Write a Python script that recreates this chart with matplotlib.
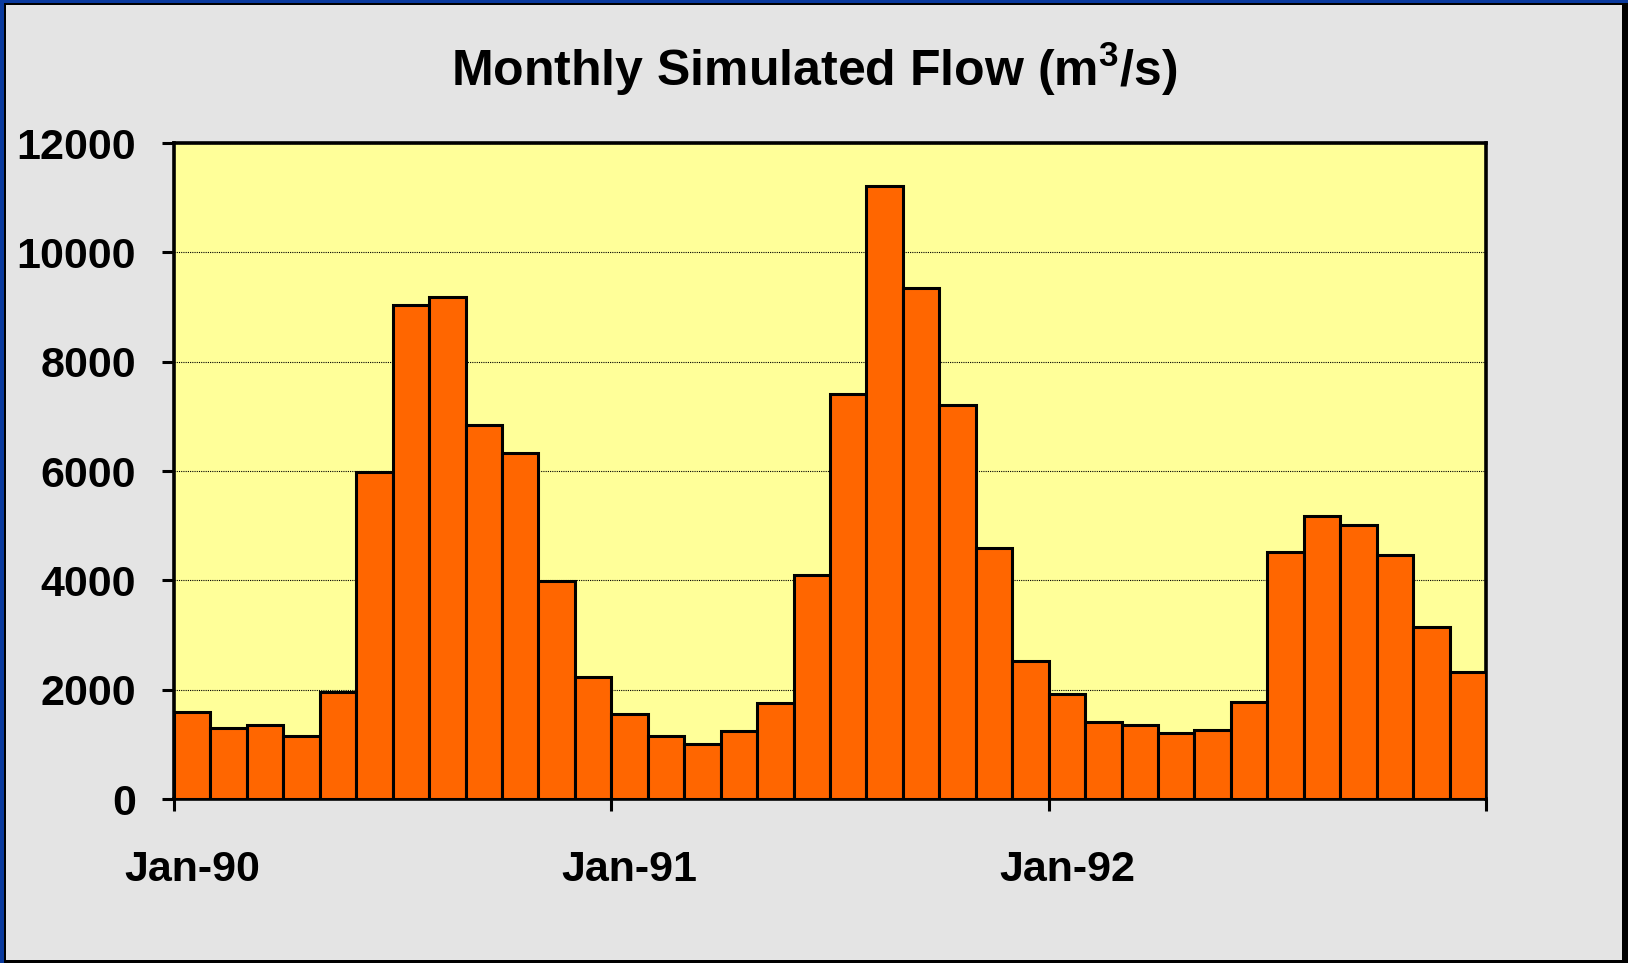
import matplotlib
matplotlib.use("Agg")
import matplotlib.pyplot as plt
from matplotlib.patches import Rectangle
import numpy as np

# monthly simulated flow, Jan-90 .. Dec-92 (m3/s)
flow_1990 = [1600, 1290, 1350, 1150, 1960, 5990, 9040, 9190, 6840, 6330, 3990, 2230]
flow_1991 = [1560, 1150, 1000, 1250, 1760, 4100, 7400, 11210, 9340, 7200, 4600, 2520]
flow_1992 = [1920, 1410, 1350, 1200, 1260, 1770, 4510, 5180, 5020, 4460, 3140, 2320]
year_labels = ["Jan-90", "Jan-91", "Jan-92"]
y_ticks = [0, 2000, 4000, 6000, 8000, 10000, 12000]

flow = flow_1990 + flow_1991 + flow_1992
months = np.arange(len(flow))

plt.rcParams["font.family"] = ["Liberation Sans", "DejaVu Sans"]
plt.rcParams["font.weight"] = "bold"
plt.rcParams["mathtext.fontset"] = "custom"
plt.rcParams["mathtext.rm"] = "Liberation Sans:bold"
plt.rcParams["mathtext.bf"] = "Liberation Sans:bold"

W, H = 1628, 963
fig = plt.figure(figsize=(W / 100, H / 100), dpi=100, facecolor="#0a3a9e")

# frame: blue outer edge, black inner line, grey slab
fig.patches.append(Rectangle((4 / W, 0), 1 - 4 / W, 1 - 3 / H, transform=fig.transFigure,
                             facecolor="black", edgecolor="none", zorder=-3))
fig.patches.append(Rectangle((6 / W, 3 / H), (1622 - 6) / W, (960 - 5) / H, transform=fig.transFigure,
                             facecolor="#e4e4e4", edgecolor="none", zorder=-2))

ax = fig.add_axes([174 / W, 1 - 799 / H, (1486 - 174) / W, (799 - 143) / H])
ax.set_facecolor("#ffff99")

ax.bar(months + 0.5, flow, width=1.0, color="#ff6600", edgecolor="black", linewidth=2.2, zorder=3)

ax.set_xlim(0, len(flow))
ax.set_ylim(0, 12000)
ax.set_yticks(y_ticks)
ax.set_yticklabels([str(v) for v in y_ticks])
ax.yaxis.grid(True, color="black", linestyle=(0, (1, 1)), linewidth=0.8, zorder=0)

# year ticks between categories, labels on the January bar
ax.set_xticks([0, 12, 24, 36])
ax.set_xticklabels([])
ax.set_xticks([0.5, 12.5, 24.5], minor=True)
ax.set_xticklabels(year_labels, minor=True)

ax.tick_params(axis="both", which="major", direction="out", length=8.5, width=2.2, labelsize=31)
ax.tick_params(axis="y", which="major", pad=19)
ax.tick_params(axis="x", which="minor", length=0, pad=37, labelsize=31)

for s in ax.spines.values():
    s.set_linewidth(2.6)

fig.text(0.5, 1 - 86 / H, r"Monthly Simulated Flow (m$^{\mathbf{3}}$/s)", ha="center", va="baseline",
         fontsize=36, fontweight="bold")

plt.savefig("out.png", dpi=100, facecolor=fig.get_facecolor())
